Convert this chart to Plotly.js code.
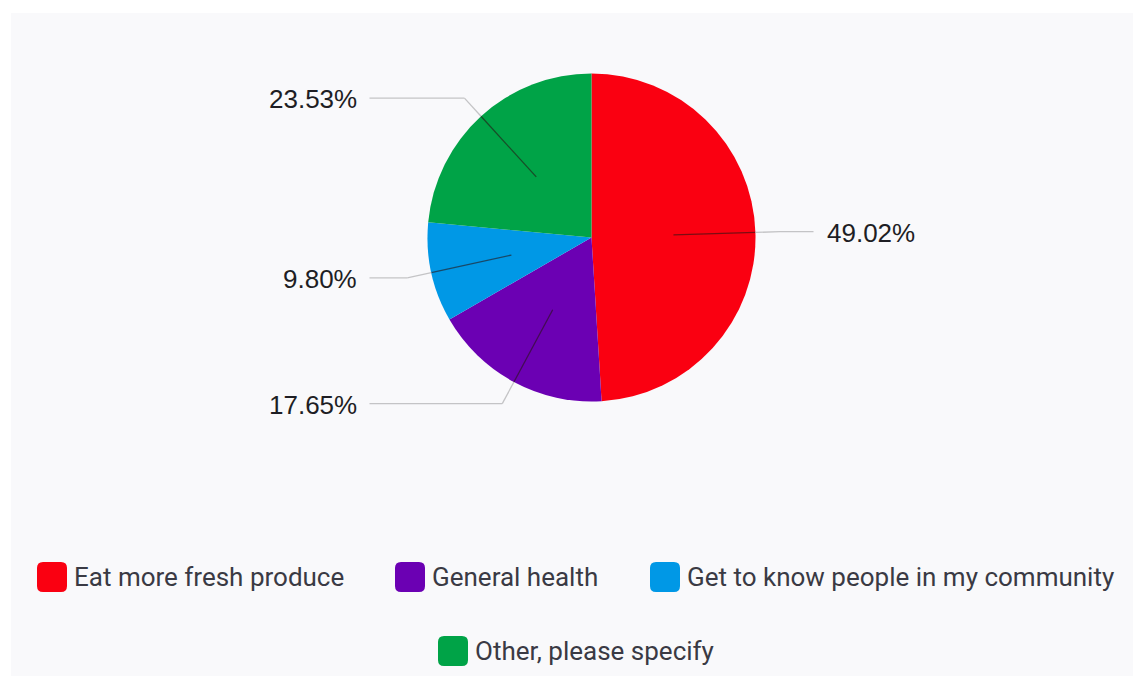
<!DOCTYPE html>
<html>
<head>
<meta charset="utf-8">
<script src="https://cdn.plot.ly/plotly-3.0.1.min.js"></script>
<style>html,body{margin:0;padding:0;background:#fff;}#chart{width:1133px;height:676px;}</style>
</head>
<body>
<div id="chart"></div>
<script>
// ---- data ----
const categories = ["Eat more fresh produce", "General health", "Get to know people in my community", "Other, please specify"];
const counts = [25, 9, 5, 12];
const colors = ["#fa0011", "#6b00b3", "#0098e6", "#00a347"];

// ---- geometry (layout only) ----
const W = 1133, H = 676;
const cx = 591.5, cy = 237.5, R = 164;
// legend entry placement (swatch left x, row centre y), in pixels
const legendPos = [[37, 577], [395, 577], [650, 577], [438, 651]];

const total = counts.reduce((a, b) => a + b, 0);
const px = x => x / W;
const py = y => 1 - y / H;
const shapes = [{
  type: "rect", xref: "paper", yref: "paper", layer: "below",
  x0: 11 / W, x1: 1, y0: 0, y1: 1 - 13 / H,
  fillcolor: "#f9f9fb", line: {width: 0}
}];
const annotations = [];

let cum = 0;
counts.forEach((v, i) => {
  const mid = (cum + v / 2) / total;
  cum += v;
  const th = 2 * Math.PI * mid;
  const dx = Math.sin(th), dy = -Math.cos(th);
  const p0 = [cx + 0.5 * R * dx, cy + 0.5 * R * dy];
  const p1 = [cx + R * dx, cy + R * dy];
  const p2 = [cx + 1.15 * R * dx, cy + 1.15 * R * dy];
  const right = dx >= 0;
  const p3 = [cx + (right ? 222 : -222), p2[1]];
  shapes.push({type: "line", xref: "paper", yref: "paper", x0: px(p0[0]), y0: py(p0[1]), x1: px(p1[0]), y1: py(p1[1]),
    line: {color: "rgba(40,20,20,0.6)", width: 1.3}});
  shapes.push({type: "line", xref: "paper", yref: "paper", x0: px(p1[0]), y0: py(p1[1]), x1: px(p2[0]), y1: py(p2[1]),
    line: {color: "#c4c4c6", width: 1.3}});
  shapes.push({type: "line", xref: "paper", yref: "paper", x0: px(p2[0]), y0: py(p2[1]), x1: px(p3[0]), y1: py(p3[1]),
    line: {color: "#c4c4c6", width: 1.3}});
  annotations.push({
    xref: "paper", yref: "paper", showarrow: false,
    x: px(cx + (right ? 233 : -233)), y: py(p2[1] + 1),
    xanchor: right ? "left" : "right", yanchor: "middle",
    text: (v / total * 100).toFixed(2) + "%",
    font: {family: "Liberation Sans, Arial, sans-serif", size: 26, color: "#1e1e24"}
  });
});

// custom legend: rounded swatches + labels from categories/colors
categories.forEach((name, i) => {
  const [x, y] = legendPos[i];
  const s = 30, r = 6;
  const x0 = x, x1 = x + s, y0 = y - s / 2, y1 = y + s / 2;
  const path = `M ${px(x0 + r)} ${py(y0)} L ${px(x1 - r)} ${py(y0)} Q ${px(x1)} ${py(y0)} ${px(x1)} ${py(y0 + r)} ` +
    `L ${px(x1)} ${py(y1 - r)} Q ${px(x1)} ${py(y1)} ${px(x1 - r)} ${py(y1)} L ${px(x0 + r)} ${py(y1)} ` +
    `Q ${px(x0)} ${py(y1)} ${px(x0)} ${py(y1 - r)} L ${px(x0)} ${py(y0 + r)} Q ${px(x0)} ${py(y0)} ${px(x0 + r)} ${py(y0)} Z`;
  shapes.push({type: "path", xref: "paper", yref: "paper", path: path, fillcolor: colors[i], line: {width: 0}});
  annotations.push({
    xref: "paper", yref: "paper", showarrow: false,
    x: px(x + 35), y: py(y), xanchor: "left", yanchor: "middle",
    text: name,
    font: {family: "Roboto, sans-serif", size: 26, color: "#3a3a44"}
  });
});

const trace = {
  type: "pie",
  labels: categories,
  values: counts,
  marker: {colors: colors, line: {width: 0}},
  sort: false,
  direction: "clockwise",
  rotation: 0,
  textinfo: "none",
  hoverinfo: "label+percent",
  showlegend: false,
  domain: {x: [px(cx - R), px(cx + R)], y: [py(cy + R), py(cy - R)]}
};

const layout = {
  width: W, height: H,
  margin: {l: 0, r: 0, t: 0, b: 0},
  paper_bgcolor: "#ffffff",
  showlegend: false,
  shapes: shapes,
  annotations: annotations
};

Plotly.newPlot("chart", [trace], layout, {displayModeBar: false, staticPlot: true});
</script>
</body>
</html>
